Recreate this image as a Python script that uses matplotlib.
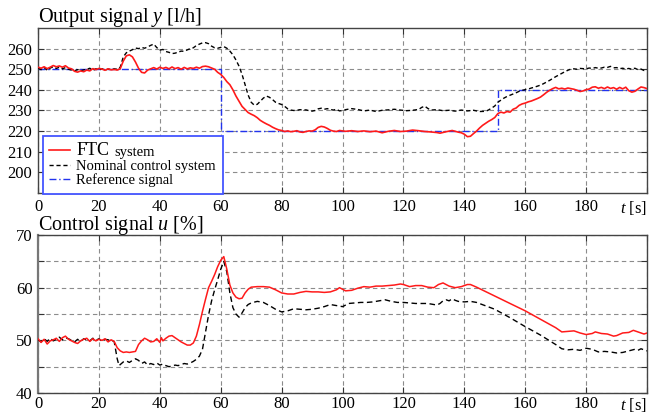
import matplotlib
matplotlib.use("Agg")
import matplotlib.pyplot as plt
from matplotlib.lines import Line2D

plt.rcParams['font.family'] = ['Liberation Serif', 'DejaVu Serif']
plt.rcParams['mathtext.fontset'] = 'custom'
plt.rcParams['mathtext.rm'] = 'Liberation Serif'
plt.rcParams['mathtext.it'] = 'Liberation Serif:italic'

# ---------------- data: output signal y ----------------
t_ref = [0, 60, 60, 151, 151, 200]
ref_y = [250, 250, 220, 220, 240, 240]

t_ftc_y = list(range(0, 101)) + [101, 103, 105, 107, 109, 111, 113, 115, 117, 119, 121, 123, 125, 127,
                                  129, 131, 132, 134, 136, 138, 139] + list(range(140, 201))
ftc_y = [251, 250.5, 251.2, 250.3, 251, 251.8, 251.2, 251.6, 251.0, 251.7, 250.6, 250.2, 249.0, 248.6,
         249.2, 248.8, 249.6, 249.2, 250.3, 249.8, 250.4, 250.1, 249.5, 250.2, 249.7, 249.9, 249.6, 250.3,
         254, 256.5, 257, 256, 253.5, 250.5, 248.5, 248.2, 249.6, 250.2, 250.8, 250.1,
         251, 250.4, 250.9, 250.2, 251.1, 250.3, 250.8, 250, 250.9, 250.2,
         250.7, 250.4, 251, 250.5, 251.3, 251.5, 251.2, 250.6, 250, 248.5,
         247.5, 246, 244, 242.5, 240, 237, 234.5, 232, 230.5, 229,
         228.2, 227.5, 226.5, 225.2, 224.3, 223.5, 222.8, 221.9, 221.2, 220.6,
         220.3, 219.8, 220.1, 219.7, 219.9, 220.2, 219.6, 219.4, 219.8, 220.1,
         220.0, 220.6, 221.8, 222.3, 222, 221.3, 220.4, 220.0, 219.8, 220.3, 220.1,
         219.9, 220.2, 219.8, 220.1, 219.7, 220.0, 219.2, 219.9, 220.3, 219.8, 220.0, 220.5, 220.2, 219.8,
         219.6, 219.3, 219.0, 219.7, 220.3, 219.5, 219.2,
         218.5, 217.3, 217.5, 218.8, 220, 221.5, 222.8, 223.8, 224.8, 225.6,
         226.6, 228.5, 229.2, 228.8, 229.5, 229.2, 230.6, 231.2, 232.5, 233.2,
         233.6, 234.2, 234.6, 235.2, 235.8, 236.5, 237.6, 238.8, 239.8, 240.6,
         241.2, 240.5, 240.8, 240.4, 240.9, 240.6, 240.3, 239.8, 239.2, 239.5,
         240.1, 240.4, 241.3, 241.5, 240.8, 241.2, 240.6, 241.4, 240.7, 241.1,
         240.3, 241.2, 240.5, 241.3, 239.6, 238.9, 239.3, 240.4, 241.4, 241.1, 240.6]

t_nom_y = list(range(0, 101)) + [101, 103, 105, 107, 109, 111, 113, 115, 117, 119, 121, 123, 125, 126,
                                  127, 128, 129, 131, 133, 135, 137, 139, 141, 143, 145, 147] + list(range(148, 201))
nom_y = [250.6, 249.8, 250.9, 249.5, 250.6, 251.2, 250.4, 251, 250.2, 250.8, 250, 249.6, 249.3, 249.8,
         249.2, 249.7, 249.9, 250.5, 249.4, 250.2, 249.6, 250.3, 249.5, 250.1, 249.8, 250.2, 250.0, 251,
         256, 258, 258.8, 259.5, 260.3, 260, 260.6, 260.2, 260.8, 261.6, 262.2, 260.5,
         259.3, 259.6, 258.6, 258.2, 257.6, 257.8, 258.3, 258.8, 258.7, 259.4,
         260, 260.4, 261.5, 262.2, 262.8, 262.9, 262.4, 261.2, 260.4, 260.2,
         260.6, 261, 260.2, 258.8, 257, 254.5, 251.5, 247.5, 242.5, 237.5,
         234, 232.6, 233, 234.5, 236, 237, 236.4, 235.3, 234, 233.4,
         232.9, 232, 230.8, 230.2, 230, 230.1, 230.4, 230.2, 230.3, 229.9,
         229.7, 230, 230.8, 231.1, 230.6, 230.9, 230.5, 230.2, 230.6, 229.8, 230,
         230.4, 230.9, 230.5, 229.8, 230.2, 229.5, 230.1, 230.3, 230.6, 230.2, 229.9, 230.1, 230.5, 231.5,
         232.1, 231, 230.2, 230.4, 229.9, 230.1, 229.7, 230.2, 229.8, 230.1, 229.5, 229.6,
         230.3, 231.2, 232.2, 234, 235, 236, 236.8, 237.4, 238, 238.6, 239.3, 239.8,
         240.1, 240.4, 240.9, 241.3, 241.8, 242.3, 243, 243.8, 244.6, 245.5,
         246.4, 247.2, 248, 248.8, 249.5, 250.1, 250.2, 250, 250.4, 250.3,
         250.2, 250.6, 250.4, 250.8, 250.5, 250.6, 251.0, 250.9, 251.4, 250.7,
         250.8, 250.3, 250.5, 250.1, 250.4, 250.0, 250.5, 249.8, 250.1, 249.4, 249.5]

# ---------------- data: control signal u ----------------
t_ftc_u = list(range(0, 41)) + [40.5] + list(range(41, 71)) + list(range(72, 99, 2)) + \
          [99, 101, 103, 105, 107, 109, 111, 113, 115, 117, 119, 120, 122, 124, 126, 128, 130, 131.5,
           133, 135, 137, 139, 141, 142, 144, 150, 155, 160, 165, 170, 172, 174, 176, 178, 180, 182,
           183, 185, 187, 189, 190, 192, 194, 195.5, 197, 199, 200]
ftc_u = [50.3, 49.6, 50.2, 49.3, 49.9, 50.1, 50.4, 49.8, 50.5, 50.8, 50.2, 49.9, 49.6, 49.4, 49.9,
         50.2, 50.4, 49.8, 50.3, 49.9, 50.2, 50.0, 50.3, 49.7, 50.1, 49.8,
         48.6, 48.0, 47.7, 47.8, 47.7, 47.8, 47.9, 49.2, 49.9, 50.4, 50.1, 49.7, 49.8, 50.3, 49.6,
         50.5, 49.9, 50.4, 50.8, 50.9, 50.5, 50.1, 49.7, 49.4, 49.1, 49.1,
         49.5, 50.8, 53, 55.5, 57.8, 60, 61.2, 62.5, 64, 65.2, 65.9, 63.5, 60.5, 59, 58.2, 57.9, 58,
         59, 59.7, 60.1,
         60.2, 60.2, 60.1, 59.6, 59.0, 58.8, 58.8, 59.1, 59.3, 59.2, 59.2, 59.1, 59.2, 59.6,
         60.0, 59.4, 59.5, 59.9, 60.2, 60.1, 60.3, 60.3, 60.4, 60.5, 60.7, 60.6, 60.2, 60.4, 60.4,
         60.1, 60.0, 60.6, 60.9, 60.3, 60.0, 60.2, 60.6, 60.6, 60.1, 58.4, 57.0, 55.6, 54.0, 52.4,
         51.6, 51.7, 51.8, 51.4, 51.1, 51.3, 51.6, 51.3, 51.2, 50.8, 50.9, 51.4, 51.5, 51.9, 51.6,
         51.2, 51.4]

t_nom_u = list(range(0, 27)) + [26.6] + list(range(27, 71)) + list(range(72, 131, 2)) + \
          [131, 132, 133, 134, 135, 136, 137, 138, 140, 142, 144, 150, 155, 160, 165, 170, 172, 174,
           176, 178, 180, 182, 184, 186, 188, 190, 192, 194, 196, 197, 198, 200]
nom_u = [50.1, 49.7, 50.3, 49.8, 50.4, 49.9, 50.2, 50.6, 50.1, 50.5, 50.3, 50.0, 49.7, 50.2, 49.8,
         50.3, 50.1, 49.9, 50.4, 50.0, 50.3, 49.8, 50.2, 50.1, 49.9, 49.8, 46.5, 45.2,
         45.4, 45.9, 46.1, 45.8, 46.2, 46.5, 46.2, 45.6, 45.9, 45.3, 45.6, 45.4, 45.7, 45.3,
         45.5, 45.2, 45.0, 45.1, 45.3, 45.2, 45.4, 45.6, 45.5, 45.7, 46.0, 46.4, 47.0, 48.3,
         51.5, 54.8, 57.5, 59.6, 61.5, 63.5, 65.0, 63.0, 59.0, 56.2, 55.0, 54.4, 55.2, 56.2,
         56.8, 57.1,
         57.4, 57.2, 56.6, 55.9, 55.4, 55.6, 56.0, 55.9, 55.8, 55.9, 56.1, 56.4, 56.8, 56.6,
         56.4, 57.0, 57.1, 57.2, 57.2, 57.3, 57.5, 57.7, 57.4, 57.2, 57.2, 57.1, 57.0, 57.0,
         57.0, 56.8,
         56.7, 57.0, 57.5, 57.7, 57.5, 57.9, 57.6, 57.4, 57.3, 57.4, 57.2, 55.9, 54.3, 52.6,
         51.0, 49.2, 48.4, 48.2, 48.3, 48.1, 48.5, 48.3, 47.8, 47.9, 47.8, 47.6, 47.7, 48.0,
         48.3, 48.1, 48.4, 48.0]

x_ticks = [0, 20, 40, 60, 80, 100, 120, 140, 160, 180, 200]
x_labels = ['0', '20', '40', '60', '80', '100', '120', '140', '160', '180', r'$t$ [s]']
y_ticks_top = [200, 210, 220, 230, 240, 250, 260]
y_ticks_bot = [40, 45, 50, 55, 60, 65, 70]
y_labels_bot = ['40', '', '50', '', '60', '', '70']

# ---------------- figure ----------------
fig = plt.figure(figsize=(6.49, 4.15), dpi=100)
ax1 = fig.add_axes([0.0586, 0.535, 0.9384, 0.3975])
ax2 = fig.add_axes([0.0586, 0.053, 0.9384, 0.3807])

red = '#ff1a1a'
grid_kw = dict(color='#8c8c8c', linestyle=(0, (4, 3)), linewidth=0.8)

for ax, pad in ((ax1, 4), (ax2, 2.5)):
    ax.set_xlim(0, 200)
    ax.set_xticks(x_ticks)
    ax.set_xticklabels(x_labels)
    ax.get_xticklabels()[-1].set_horizontalalignment('right')
    ax.grid(True, **grid_kw)
    ax.tick_params(direction='in', length=4, labelsize=12, top=True, right=True, pad=4,
                   color='#333333')
    ax.tick_params(axis='x', pad=pad)
    for s in ax.spines.values():
        s.set_color('#444444')
        s.set_linewidth(1.0)
    ax.set_axisbelow(True)

ax1.plot(t_ref, ref_y, color='#2233ee', linestyle=(0, (5, 2, 1, 2)), linewidth=1.0, zorder=2)
ax1.plot(t_nom_y, nom_y, color='black', linestyle=(0, (3, 2)), linewidth=1.0, zorder=3)
ax1.plot(t_ftc_y, ftc_y, color=red, linewidth=1.2, zorder=4)
ax1.set_ylim(190, 270)
ax1.set_yticks(y_ticks_top)

ax2.plot(t_nom_u, nom_u, color='black', linestyle=(0, (4, 2.5)), linewidth=1.0, zorder=3)
ax2.plot(t_ftc_u, ftc_u, color=red, linewidth=1.1, zorder=4)
ax2.set_ylim(40, 70)
ax2.set_yticks(y_ticks_bot)
ax2.set_yticklabels(y_labels_bot)
ax2.spines['left'].set_linewidth(1.6)
ax2.spines['left'].set_color('#777777')

# titles
title1 = ax1.annotate(r'Output signal $y$ [l/h]', xy=(0, 1), xycoords='axes fraction',
                      xytext=(0, 4.5), textcoords='offset points', ha='left', va='baseline',
                      fontsize=13.5)
title2 = ax2.annotate(r'Control signal $u$ [%]', xy=(0, 1), xycoords='axes fraction',
                      xytext=(0, 3.5), textcoords='offset points', ha='left', va='baseline',
                      fontsize=13.5)

# legend
handles = [Line2D([], [], color=red, linewidth=1.2),
           Line2D([], [], color='black', linestyle=(0, (3, 2)), linewidth=1.0),
           Line2D([], [], color='#2233ee', linestyle=(0, (5, 2, 1, 2)), linewidth=1.0)]
labels = ['FTC', 'Nominal control system', 'Reference signal']
leg = ax1.legend(handles, labels, loc='lower left', bbox_to_anchor=(0.008, -0.005),
                 borderaxespad=0, fontsize=10.5, handlelength=1.4, handletextpad=0.45,
                 labelspacing=0.04, borderpad=0.45, fancybox=False, framealpha=1,
                 edgecolor='#4455ff')
leg.get_frame().set_linewidth(1.3)
leg.get_texts()[0].set_fontsize(13)
leg.set_zorder(10)

fig.canvas.draw()
r = fig.canvas.get_renderer()
# fit the title widths to the reference (pixels)
for t, target in ((title1, 164.0), (title2, 166.0)):
    w = t.get_window_extent(r).width
    t.set_fontsize(t.get_fontsize() * target / w)
fig.canvas.draw()
bb = leg.get_texts()[0].get_window_extent(r)
fig.text((bb.x1 + 5) / fig.bbox.width, (bb.y0 + 3) / fig.bbox.height, 'system', fontsize=10.5,
         ha='left', va='baseline', zorder=11)

fig.savefig('out.png', dpi=100)
